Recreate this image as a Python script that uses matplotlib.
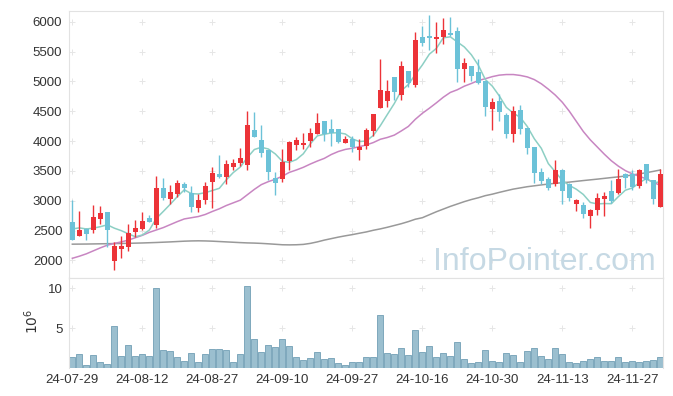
import matplotlib
matplotlib.use("Agg")
import matplotlib.pyplot as plt
import numpy as np

# daily candles, 85 trading days (24-07-29 .. 24-12-03)
opens = [2639, 2415, 2527, 2516, 2695, 2806, 1990, 2191, 2225, 2476,
         2527, 2706, 2599, 3220, 3025, 3120, 3276, 3131, 2885, 3013,
         3315, 3455, 3399, 3567, 3634, 3601, 4182, 4014, 3847, 3382,
         3360, 3668, 3942, 3936, 4003, 4121, 4328, 4199, 4199, 3970,
         4042, 3847, 3914, 4171, 4557, 4674, 5066, 4770, 5172, 4937,
         5737, 5765, 5709, 5748, 5804, 5843, 5206, 5256, 5161, 5004,
         4540, 4669, 4434, 4126, 4518, 4221, 3897, 3478, 3360, 3276,
         3522, 3287, 2952, 2924, 2739, 2840, 3030, 3159, 3131, 3455,
         3455, 3248, 3612, 3343, 2896]
highs = [3019, 2834, 2535, 2935, 2913, 2815, 2303, 2415, 2616, 2683,
         2806, 2756, 3410, 3388, 3271, 3355, 3315, 3254, 3114, 3315,
         3567, 3768, 3690, 3696, 3880, 4501, 4479, 4261, 3855, 3483,
         3875, 4000, 4070, 4143, 4221, 4462, 4335, 4367, 4205, 4087,
         4082, 4042, 4227, 4460, 5368, 5021, 5075, 5334, 5180, 5832,
         5933, 6112, 6000, 6056, 6073, 5905, 5385, 5262, 5368, 5010,
         4730, 4781, 4462, 4585, 4596, 4225, 3900, 3550, 3399, 3690,
         3525, 3290, 3036, 2980, 2860, 3136, 3142, 3343, 3533, 3460,
         3511, 3525, 3615, 3345, 3539]
lows = [2340, 2410, 2348, 2465, 2616, 2225, 1833, 2040, 2152, 2393,
        2504, 2636, 2538, 3008, 2952, 3064, 3148, 2806, 2818, 2952,
        2880, 3388, 3287, 3511, 3578, 3511, 4060, 3735, 3343, 3092,
        3315, 3522, 3847, 3863, 3903, 4110, 3997, 3925, 3970, 3960,
        3819, 3690, 3875, 4082, 4550, 4574, 4686, 4686, 4898, 4898,
        5592, 5525, 5480, 5620, 5760, 4993, 4993, 5010, 4960, 4428,
        4193, 4339, 4059, 3992, 4126, 3791, 3299, 3287, 3187, 3243,
        2952, 2997, 2829, 2717, 2549, 2756, 2750, 2965, 3120, 3220,
        3187, 3220, 3299, 2952, 2890]
closes = [2348, 2516, 2448, 2723, 2790, 2504, 2236, 2236, 2465, 2538,
          2655, 2644, 3220, 3047, 3142, 3293, 3215, 2896, 3019, 3254,
          3472, 3399, 3612, 3629, 3712, 4266, 4070, 3802, 3483, 3299,
          3645, 3992, 4026, 3975, 4132, 4311, 4126, 4138, 3987, 4031,
          3903, 3903, 4182, 4451, 4853, 4837, 4825, 5256, 4965, 5692,
          5636, 5732, 5737, 5860, 5771, 5206, 5312, 5088, 4976, 4574,
          4652, 4490, 4126, 4501, 4210, 3886, 3466, 3327, 3220, 3522,
          3164, 3052, 3008, 2778, 2851, 3041, 3086, 2992, 3371, 3388,
          3231, 3522, 3343, 3025, 3455]
# volume in millions of shares
volumes = [1.38, 1.75, 0.38, 1.63, 0.79, 0.5, 5.25, 1.5, 2.88, 1.5,
           1.75, 1.5, 10.1, 2.25, 2.17, 1.38, 0.88, 1.88, 0.79, 1.75,
           2.38, 2.38, 2.25, 0.79, 1.75, 10.25, 3.63, 2.0, 2.88, 2.63,
           3.63, 2.75, 1.38, 1.0, 1.25, 2.0, 1.13, 1.25, 0.63, 0.38,
           0.75, 0.75, 1.38, 1.38, 6.63, 1.88, 1.75, 2.5, 1.63, 4.75,
           2.0, 2.75, 1.38, 1.88, 1.5, 3.25, 1.13, 0.63, 0.75, 2.25,
           0.88, 0.75, 1.88, 1.63, 0.75, 2.13, 2.5, 1.5, 1.13, 2.5,
           1.75, 0.75, 0.63, 0.88, 1.13, 1.38, 0.88, 0.88, 1.38, 0.75,
           0.88, 0.75, 0.88, 1.0, 1.38]
ma5 = [2527, 2545, 2527, 2540, 2565, 2596, 2540, 2498, 2446, 2396,
       2426, 2508, 2704, 2821, 2942, 3069, 3183, 3119, 3113, 3135,
       3171, 3208, 3351, 3473, 3565, 3724, 3858, 3896, 3867, 3784,
       3660, 3644, 3689, 3787, 3954, 4087, 4114, 4136, 4139, 4119,
       4037, 3992, 4001, 4094, 4258, 4445, 4630, 4844, 4947, 5115,
       5275, 5456, 5552, 5731, 5747, 5661, 5577, 5447, 5271, 5031,
       4920, 4756, 4564, 4469, 4396, 4243, 4038, 3878, 3622, 3484,
       3340, 3257, 3193, 3105, 2971, 2946, 2953, 2950, 3068, 3176,
       3214, 3301, 3371, 3302, 3315]
ma20 = [2035, 2070, 2110, 2160, 2210, 2255, 2285, 2310, 2340, 2380,
        2420, 2470, 2510, 2550, 2600, 2650, 2695, 2715, 2735, 2770,
        2820, 2865, 2920, 2965, 3010, 3100, 3190, 3270, 3320, 3360,
        3410, 3475, 3515, 3560, 3615, 3665, 3710, 3775, 3825, 3860,
        3880, 3905, 3935, 3975, 4030, 4060, 4100, 4170, 4245, 4365,
        4465, 4550, 4640, 4735, 4815, 4860, 4920, 4965, 5015, 5045,
        5080, 5105, 5115, 5115, 5100, 5075, 5030, 4960, 4870, 4770,
        4650, 4500, 4330, 4160, 4020, 3900, 3780, 3670, 3580, 3505,
        3450, 3410, 3365, 3310, 3255]
ma60 = [2272, 2273, 2274, 2276, 2278, 2280, 2282, 2284, 2286, 2289,
        2292, 2296, 2300, 2305, 2310, 2316, 2322, 2326, 2328, 2326,
        2322, 2316, 2310, 2304, 2298, 2293, 2290, 2285, 2278, 2270,
        2262, 2260, 2262, 2268, 2285, 2310, 2340, 2365, 2390, 2412,
        2432, 2455, 2477, 2505, 2528, 2555, 2585, 2615, 2650, 2690,
        2715, 2765, 2815, 2860, 2905, 2945, 2985, 3020, 3050, 3085,
        3110, 3140, 3168, 3195, 3215, 3235, 3250, 3265, 3280, 3292,
        3302, 3312, 3325, 3338, 3350, 3362, 3375, 3388, 3400, 3415,
        3430, 3450, 3470, 3492, 3515]
tick_labels = ['24-07-29', '24-08-12', '24-08-27', '24-09-10', '24-09-27',
               '24-10-16', '24-10-30', '24-11-13', '24-11-27']

UP = '#ec3338'
DOWN = '#6cc2d8'
GRID = '#e6e6e6'
SPINE = '#e2e2e2'
TXT = '#333333'

plt.rcParams['font.family'] = ['Liberation Sans', 'DejaVu Sans']

x = np.arange(len(closes))
o = np.array(opens); c = np.array(closes)
up = c >= o
cols = np.where(up, UP, DOWN)
tick_pos = np.arange(0, len(closes), 10)

fig = plt.figure(figsize=(6.73, 3.96), dpi=100)
ax = fig.add_axes([0.103, 0.298, 0.8817, 0.675])
vax = fig.add_axes([0.103, 0.07, 0.8817, 0.228])

# grid crosses
yt = np.arange(2000, 6001, 500)
gx, gy = np.meshgrid(tick_pos, yt)
ax.plot(gx.ravel(), gy.ravel(), '+', color=GRID, ms=4, mew=0.7, zorder=0)
gx2, gy2 = np.meshgrid(tick_pos, [5, 10])
vax.plot(gx2.ravel(), gy2.ravel(), '+', color=GRID, ms=4, mew=0.7, zorder=0)

# moving averages
ax.plot(x, ma60, color='#999999', lw=1.1, zorder=2)
ax.plot(x, ma20, color='#c886c2', lw=1.1, zorder=2)
ax.plot(x, ma5, color='#8dcfc4', lw=1.1, zorder=2)

# candles
ax.vlines(x, lows, highs, colors=cols, lw=1.0, zorder=3)
body_lo = np.minimum(o, c)
body_h = np.maximum(np.abs(c - o), 18)
ax.bar(x, body_h, bottom=body_lo, width=0.76, color=cols, lw=0, zorder=4)

ax.set_xlim(-0.43, 84.34)
ax.set_ylim(1705, 6185)
ax.set_yticks(yt)
ax.set_xticks([])
ax.tick_params(axis='y', length=0, pad=5, labelsize=9.5, labelcolor=TXT)
for s in ax.spines.values():
    s.set_color(SPINE)
    s.set_linewidth(0.8)

ax.text(0.988, 0.03, 'InfoPointer.com', transform=ax.transAxes, ha='right',
        va='baseline', fontsize=23, color='#c6d9e4', zorder=1)

# volume
vax.bar(x, volumes, width=0.86, color='#9bbfcf', edgecolor='#7ea8bc',
        lw=0.7, zorder=2)
vax.set_xlim(-0.43, 84.34)
vax.set_ylim(0, 11.29)
vax.set_yticks([5, 10])
vax.set_xticks(tick_pos)
vax.set_xticklabels(tick_labels)
vax.tick_params(axis='both', length=0, labelsize=9.5, labelcolor=TXT)
vax.tick_params(axis='y', pad=5)
vax.tick_params(axis='x', pad=4)
for s in vax.spines.values():
    s.set_color(SPINE)
    s.set_linewidth(0.8)
vax.spines['bottom'].set_visible(False)

fig.text(32 / 673, 1 - 321 / 396, r'$10^6$', rotation=90, ha='center',
         va='center', fontsize=10, color=TXT)

fig.savefig('out.png', dpi=100)
